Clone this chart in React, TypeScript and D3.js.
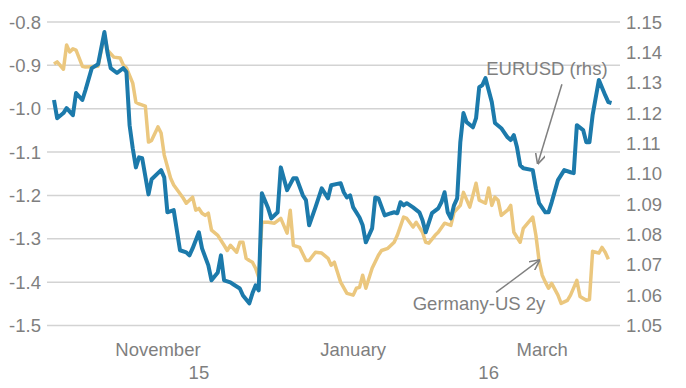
import React, { useEffect, useRef } from 'react';
import * as d3 from 'd3';

// day offsets are counted from START (2015-10-13)
const START = new Date(2015, 9, 13);
const END_DAY = 177;

// Germany-US 2y spread (left axis)
const spreadDays = [
  0, 1, 3, 4, 5, 6, 7, 9, 10, 14, 16, 17, 19, 21, 22, 23, 25, 26, 27, 29, 30, 31, 33, 34, 35, 37, 38, 41,
  42, 44, 45, 46, 47, 48, 49, 50, 52, 54, 55, 56, 58, 59, 60, 61, 62, 63, 64, 65, 66, 68, 70, 72, 74, 75,
  76, 78, 80, 81, 83, 85, 87, 88, 89, 90, 91, 93, 95, 96, 97, 98, 99, 101, 103, 104, 106, 108, 109, 111,
  112, 114, 115, 117, 118, 119, 121, 122, 124, 126, 127, 129, 130, 132, 134, 135, 137, 138, 139, 140, 141,
  142, 144, 145, 146, 148, 149, 152, 153, 154, 155, 156, 157, 158, 160, 161, 163, 164, 166, 167, 169, 170,
  171, 172, 173, 174, 175, 176,
];
const spreadValues = [
  -0.897, -0.892, -0.909, -0.853, -0.869, -0.862, -0.865, -0.902, -0.904, -0.902, -0.83, -0.865, -0.881,
  -0.883, -0.899, -0.906, -0.941, -0.985, -0.989, -0.994, -1.077, -1.073, -1.042, -1.056, -1.107, -1.16,
  -1.176, -1.206, -1.218, -1.204, -1.234, -1.23, -1.241, -1.246, -1.241, -1.28, -1.292, -1.315, -1.327,
  -1.315, -1.331, -1.308, -1.308, -1.345, -1.35, -1.354, -1.368, -1.389, -1.262, -1.262, -1.264, -1.253,
  -1.287, -1.234, -1.315, -1.32, -1.35, -1.35, -1.331, -1.333, -1.345, -1.361, -1.354, -1.377, -1.4,
  -1.426, -1.43, -1.414, -1.412, -1.384, -1.414, -1.368, -1.338, -1.327, -1.322, -1.308, -1.292, -1.25,
  -1.253, -1.273, -1.262, -1.285, -1.308, -1.31, -1.292, -1.285, -1.264, -1.269, -1.239, -1.223, -1.193,
  -1.227, -1.172, -1.211, -1.218, -1.183, -1.223, -1.204, -1.211, -1.246, -1.234, -1.223, -1.285, -1.308,
  -1.276, -1.25, -1.292, -1.35, -1.384, -1.4, -1.414, -1.403, -1.43, -1.449, -1.442, -1.43, -1.396,
  -1.433, -1.442, -1.44, -1.329, -1.331, -1.333, -1.32, -1.331, -1.347,
];

// EURUSD (right axis)
const eurusdDays = [
  0, 1, 3, 4, 6, 7, 9, 10, 12, 14, 16, 17, 18, 20, 22, 23, 24, 25, 26, 27, 28, 30, 31, 34, 35, 36, 38, 40,
  42, 43, 44, 46, 47, 49, 50, 52, 53, 54, 56, 57, 59, 60, 62, 63, 64, 65, 66, 68, 69, 71, 72, 74, 76, 77,
  79, 80, 81, 83, 85, 87, 88, 91, 92, 93, 94, 95, 97, 98, 99, 101, 102, 103, 105, 107, 108, 109, 110, 111,
  112, 114, 116, 117, 118, 120, 122, 123, 124, 125, 126, 127, 128, 129, 130, 131, 133, 134, 135, 136, 137,
  139, 140, 142, 144, 145, 146, 147, 148, 149, 152, 153, 154, 156, 157, 158, 160, 162, 164, 165, 166, 168,
  169, 170, 171, 173, 175, 176, 177,
];
const eurusdValues = [
  1.1243, 1.1183, 1.12, 1.1216, 1.1193, 1.1266, 1.1243, 1.1276, 1.1348, 1.1361, 1.1467, 1.1398, 1.1348,
  1.1332, 1.1348, 1.1335, 1.116, 1.1084, 1.1021, 1.1054, 1.1051, 1.0932, 1.0982, 1.1012, 1.0988, 1.0873,
  1.088, 1.0748, 1.0741, 1.0731, 1.0754, 1.0807, 1.0754, 1.0698, 1.0649, 1.0675, 1.0731, 1.0649, 1.0642,
  1.0635, 1.0622, 1.0599, 1.0573, 1.0606, 1.0632, 1.0616, 1.0936, 1.0886, 1.0853, 1.0873, 1.1021, 1.0946,
  1.0985, 1.0985, 1.0929, 1.0913, 1.083, 1.0889, 1.0952, 1.0919, 1.0962, 1.0969, 1.0939, 1.0922, 1.0929,
  1.0889, 1.0856, 1.083, 1.0774, 1.082, 1.0922, 1.0919, 1.0863, 1.087, 1.0873, 1.087, 1.0906, 1.0896,
  1.0903, 1.0889, 1.0873, 1.0847, 1.0807, 1.087, 1.0886, 1.0906, 1.0939, 1.0873, 1.0853, 1.0896, 1.0919,
  1.1104, 1.12, 1.117, 1.1153, 1.1183, 1.1285, 1.1292, 1.1315, 1.1236, 1.1167, 1.115, 1.112, 1.1111,
  1.1127, 1.1087, 1.1028, 1.1018, 1.1012, 1.0952, 1.0903, 1.0873, 1.0873, 1.0906, 1.0979, 1.1012, 1.1005,
  1.1002, 1.116, 1.1144, 1.1104, 1.1104, 1.1193, 1.1309, 1.1259, 1.1236, 1.1233,
];

const leftTicks = [-0.8, -0.9, -1.0, -1.1, -1.2, -1.3, -1.4, -1.5];
const rightTicks = [1.15, 1.14, 1.13, 1.12, 1.11, 1.1, 1.09, 1.08, 1.07, 1.06, 1.05];
const monthLabels = [
  { label: 'November', date: new Date(2015, 10, 15) },
  { label: 'January', date: new Date(2016, 0, 16) },
  { label: 'March', date: new Date(2016, 2, 16) },
];
const yearLabels = [
  { label: '15', date: new Date(2015, 10, 28) },
  { label: '16', date: new Date(2016, 1, 28) },
];

const BLUE = '#1c7aab';
const TAN = '#ebc77e';
const GREY = '#7f7f7f';
const FONT = '"Liberation Sans", Arial, sans-serif';

const App = () => {
  const svgRef = useRef<SVGSVGElement>(null);

  useEffect(() => {
    const svg = d3.select(svgRef.current);
    svg.selectAll('*').remove();

    const width = 686;
    const height = 388;
    const gridLeft = 47;
    const gridRight = 620;

    const x = d3
      .scaleTime()
      .domain([START, d3.timeDay.offset(START, END_DAY)])
      .range([54, 611.5]);
    const yLeft = d3.scaleLinear().domain([-1.5, -0.8]).range([325.5, 22]);
    const yRight = d3.scaleLinear().domain([1.05, 1.15]).range([325.5, 22]);

    svg.attr('width', width).attr('height', height).style('font-family', FONT);

    // gridlines follow the left axis ticks
    svg
      .append('g')
      .selectAll('line')
      .data(leftTicks)
      .enter()
      .append('line')
      .attr('x1', gridLeft)
      .attr('x2', gridRight)
      .attr('y1', (d) => yLeft(d))
      .attr('y2', (d) => yLeft(d))
      .attr('stroke', '#d3d3d3')
      .attr('stroke-width', 1.5);

    svg
      .append('g')
      .selectAll('text')
      .data(leftTicks)
      .enter()
      .append('text')
      .attr('x', 41)
      .attr('y', (d) => yLeft(d))
      .attr('dy', '0.36em')
      .attr('text-anchor', 'end')
      .style('font-size', '18.5px')
      .style('fill', GREY)
      .text((d) => d.toFixed(1));

    svg
      .append('g')
      .selectAll('text')
      .data(rightTicks)
      .enter()
      .append('text')
      .attr('x', 626)
      .attr('y', (d) => yRight(d))
      .attr('dy', '0.36em')
      .style('font-size', '18.5px')
      .style('fill', GREY)
      .text((d) => d.toFixed(2));

    svg
      .append('g')
      .selectAll('text')
      .data(monthLabels)
      .enter()
      .append('text')
      .attr('x', (d) => x(d.date))
      .attr('y', 356)
      .attr('text-anchor', 'middle')
      .style('font-size', '18.5px')
      .style('fill', GREY)
      .text((d) => d.label);

    svg
      .append('g')
      .selectAll('text')
      .data(yearLabels)
      .enter()
      .append('text')
      .attr('x', (d) => x(d.date))
      .attr('y', 379)
      .attr('text-anchor', 'middle')
      .style('font-size', '18.5px')
      .style('fill', GREY)
      .text((d) => d.label);

    const spread = spreadDays.map((d, i) => ({ date: d3.timeDay.offset(START, d), value: spreadValues[i] }));
    const eurusd = eurusdDays.map((d, i) => ({ date: d3.timeDay.offset(START, d), value: eurusdValues[i] }));

    const spreadLine = d3
      .line<{ date: Date; value: number }>()
      .x((d) => x(d.date))
      .y((d) => yLeft(d.value));
    const eurusdLine = d3
      .line<{ date: Date; value: number }>()
      .x((d) => x(d.date))
      .y((d) => yRight(d.value));

    svg
      .append('path')
      .datum(spread)
      .attr('d', spreadLine)
      .attr('fill', 'none')
      .attr('stroke', TAN)
      .attr('stroke-width', 3.5)
      .attr('stroke-linejoin', 'round');

    svg
      .append('path')
      .datum(eurusd)
      .attr('d', eurusdLine)
      .attr('fill', 'none')
      .attr('stroke', BLUE)
      .attr('stroke-width', 4)
      .attr('stroke-linejoin', 'round');

    // annotations with arrows
    const defs = svg.append('defs');
    defs
      .append('marker')
      .attr('id', 'arrow')
      .attr('viewBox', '0 0 10 10')
      .attr('refX', 9)
      .attr('refY', 5)
      .attr('markerWidth', 7)
      .attr('markerHeight', 7)
      .attr('orient', 'auto')
      .append('path')
      .attr('d', 'M0,0 L10,5 L0,10')
      .attr('fill', 'none')
      .attr('stroke', '#808080')
      .attr('stroke-width', 1.5);

    const notes = [
      { label: 'EURUSD (rhs)', px: x(d3.timeDay.offset(START, 153)), py: yRight(1.0952), tip: [2, -25], tail: [26, -104], text: [11, -113] },
      { label: 'Germany-US 2y', px: x(d3.timeDay.offset(START, 154)), py: yLeft(-1.35), tip: [0, 0], tail: [-43, 32], text: [-60, 50] },
    ];

    notes.forEach((n) => {
      svg
        .append('line')
        .attr('x1', n.px + n.tail[0])
        .attr('y1', n.py + n.tail[1])
        .attr('x2', n.px + n.tip[0])
        .attr('y2', n.py + n.tip[1])
        .attr('stroke', '#808080')
        .attr('stroke-width', 1.5)
        .attr('marker-end', 'url(#arrow)');
      svg
        .append('text')
        .attr('x', n.px + n.text[0])
        .attr('y', n.py + n.text[1])
        .attr('text-anchor', 'middle')
        .style('font-size', '18.5px')
        .style('fill', GREY)
        .text(n.label);
    });
  }, []);

  return (
    <svg ref={svgRef} style={{ position: 'absolute', left: 0, top: 0, display: 'block' }}></svg>
  );
};

export default App;
